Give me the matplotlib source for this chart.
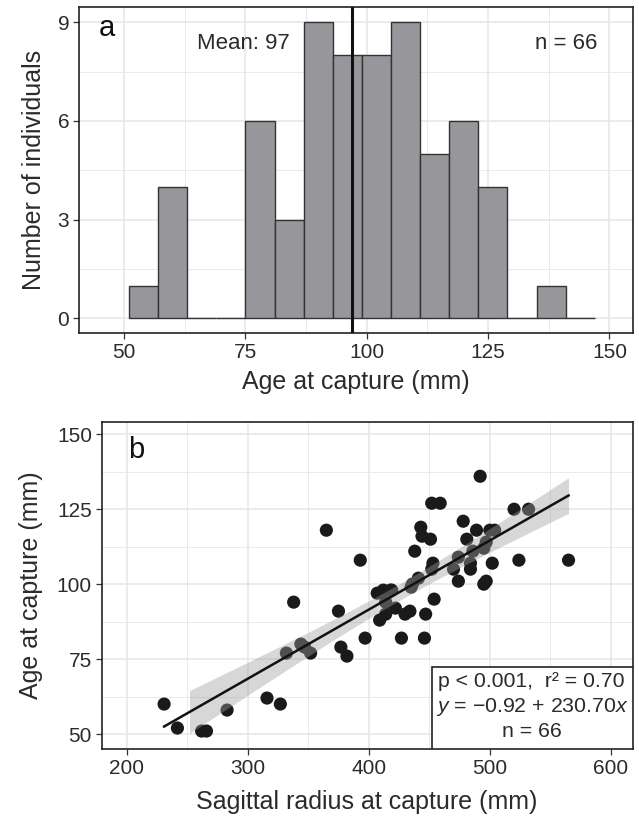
import numpy as np
import matplotlib
matplotlib.use('Agg')
import matplotlib.pyplot as plt
from matplotlib.patches import Rectangle

plt.rcParams['font.family'] = ['Liberation Sans', 'DejaVu Sans']
plt.rcParams['mathtext.fontset'] = 'custom'
plt.rcParams['mathtext.rm'] = 'Liberation Sans'
plt.rcParams['mathtext.it'] = 'Liberation Sans:italic'

# panel a: histogram of age at capture
bin_edges = [51, 57, 63, 69, 75, 81, 87, 93, 99, 105, 111, 117, 123, 129, 135, 141, 147]
bin_counts = [1, 4, 0, 0, 6, 3, 9, 8, 8, 9, 5, 6, 4, 0, 1, 0]
mean_age = 97
n_ind = 66

# panel b: age vs sagittal radius
radius = [231, 242, 262, 266, 283, 316, 327, 332, 338, 344,
          347, 352, 365, 375, 377, 382, 393, 397, 407, 409,
          412, 414, 414, 418, 419, 422, 427, 430, 434, 435,
          436, 438, 441, 443, 444, 446, 447, 451, 452, 453,
          452, 454, 459, 470, 474, 474, 478, 481, 484, 484,
          486, 489, 492, 495, 495, 497, 497, 500, 504, 502,
          520, 524, 532, 565]
age = [60, 52, 51, 51, 58, 62, 60, 77, 94, 80,
       79, 77, 118, 91, 79, 76, 108, 82, 97, 88,
       98, 94, 90, 98, 98, 92, 82, 90, 91, 99,
       100, 111, 102, 119, 116, 82, 90, 115, 127, 107,
       105, 95, 127, 105, 101, 109, 121, 115, 107, 105,
       111, 118, 136, 112, 100, 101, 114, 118, 118, 107,
       125, 108, 125, 108]
band_start = 252

txt = '#2b2b2b'
grid_c = '#e6e6e6'

fig = plt.figure(figsize=(6.39, 8.24), dpi=100)
ax1 = fig.add_axes([0.1236, 0.5955, 0.8665, 0.3956])
ax2 = fig.add_axes([0.159, 0.091, 0.831, 0.3965])


def style(ax):
    ax.set_axisbelow(True)
    ax.grid(True, which='major', color=grid_c, lw=1.1)
    ax.grid(True, which='minor', color=grid_c, lw=0.6)
    for s in ax.spines.values():
        s.set_color('#222222')
        s.set_linewidth(1.2)
    ax.tick_params(which='major', length=4, width=0.9, color='#333333',
                   labelsize=15, labelcolor=txt, pad=3)
    ax.tick_params(which='minor', length=0)


# histogram
edges = np.array(bin_edges)
ax1.bar(edges[:-1], bin_counts, width=np.diff(edges), align='edge',
        color='#97979b', edgecolor='#333333', linewidth=1.0, zorder=2)
ax1.axvline(mean_age, color='#111111', lw=2.2, zorder=3)
ax1.set_xlim(40.7, 154.8)
ax1.set_ylim(-0.45, 9.45)
ax1.set_xticks([50, 75, 100, 125, 150])
ax1.set_xticks([62.5, 87.5, 112.5, 137.5], minor=True)
ax1.set_yticks([0, 3, 6, 9])
ax1.set_yticks([1.5, 4.5, 7.5], minor=True)
style(ax1)
ax1.set_xlabel('Age at capture (mm)', fontsize=18, color=txt, labelpad=6)
ax1.set_ylabel('Number of individuals', fontsize=18, color=txt, labelpad=8)
ax1.text(0.05, 0.937, 'a', transform=ax1.transAxes, fontsize=21,
         color='#111111', ha='center', va='center')
ax1.text(74.5, 8.35, 'Mean: %d' % mean_age, fontsize=16, color=txt,
         ha='center', va='center')
ax1.text(141, 8.35, 'n = %d' % n_ind, fontsize=16, color=txt,
         ha='center', va='center')

# scatter with linear fit and 95% CI
x = np.array(radius, dtype=float)
y = np.array(age, dtype=float)
slope, icpt = np.polyfit(x, y, 1)
n = len(x)
resid = y - (icpt + slope * x)
s = np.sqrt(np.sum(resid ** 2) / (n - 2))
sxx = np.sum((x - x.mean()) ** 2)
t = 1.997
xb = np.linspace(band_start, x.max(), 100)
yb = icpt + slope * xb
se = s * np.sqrt(1.0 / n + (xb - x.mean()) ** 2 / sxx)

ax2.scatter(x, y, s=90, color='#1a1a1a', edgecolors='none', zorder=2)
ax2.fill_between(xb, yb - t * se, yb + t * se, color='#9e9e9e', alpha=0.41,
                 linewidth=0, zorder=3)
xl = np.array([x.min(), x.max()])
ax2.plot(xl, icpt + slope * xl, color='#111111', lw=1.8, zorder=4)
ax2.set_xlim(179.4, 617.9)
ax2.set_ylim(45, 154)
ax2.set_xticks([200, 300, 400, 500, 600])
ax2.set_xticks([250, 350, 450, 550], minor=True)
ax2.set_yticks([50, 75, 100, 125, 150])
ax2.set_yticks([62.5, 87.5, 112.5, 137.5], minor=True)
style(ax2)
ax2.set_xlabel('Sagittal radius at capture (mm)', fontsize=18, color=txt,
               labelpad=9)
ax2.set_ylabel('Age at capture (mm)', fontsize=18, color=txt, labelpad=10)
ax2.text(0.066, 0.915, 'b', transform=ax2.transAxes, fontsize=21,
         color='#111111', ha='center', va='center')

ax2.add_patch(Rectangle((0.6215, 0), 0.3785, 0.252, transform=ax2.transAxes,
                        facecolor='white', edgecolor='#222222', lw=1.2,
                        zorder=5))
ax2.text(0.81, 0.206, 'p < 0.001,  r\u00b2 = 0.70', transform=ax2.transAxes,
         fontsize=15.3, color=txt, ha='center', va='center', zorder=6)
ax2.text(0.81, 0.128, '$\\mathit{y}$ = \u22120.92 + 230.70$\\mathit{x}$',
         transform=ax2.transAxes, fontsize=15.3, color=txt, ha='center',
         va='center', zorder=6)
ax2.text(0.81, 0.053, 'n = %d' % n_ind, transform=ax2.transAxes,
         fontsize=15.3, color=txt, ha='center', va='center', zorder=6)

plt.savefig('out.png', dpi=100)
plt.close()
